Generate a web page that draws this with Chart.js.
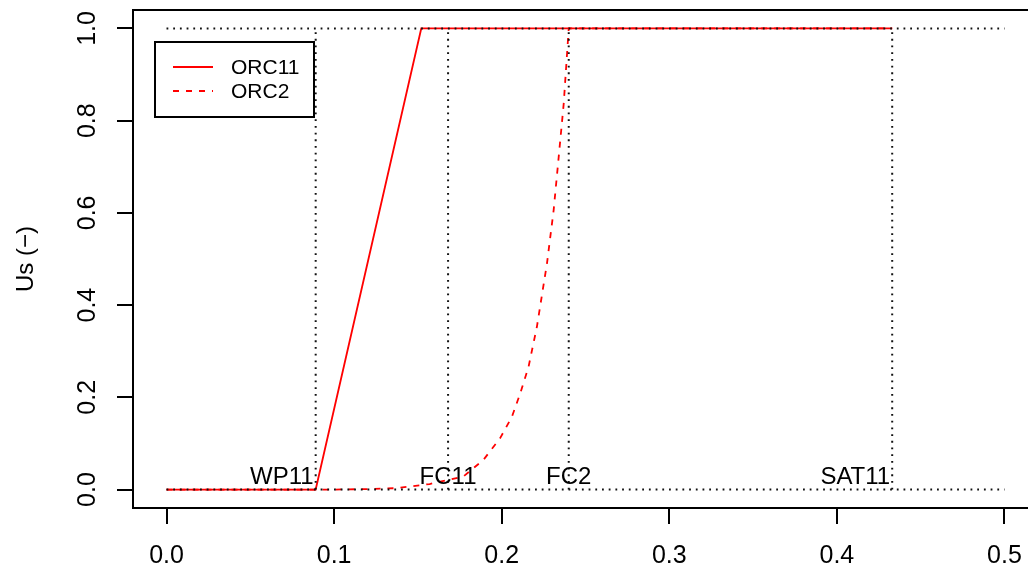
<!DOCTYPE html>
<html lang="en">
<head>
  <meta charset="UTF-8">
  <title>Us (-) curves</title>
  <script src="https://cdn.jsdelivr.net/npm/chart.js"></script>
  <style>
    html, body {
      margin: 0;
      padding: 0;
      background: #fff;
      overflow: hidden;
    }
    canvas { display: block; }
  </style>
</head>
<body>
  <canvas id="usChart" width="1060" height="571"></canvas>

  <script>
    // series
    const orc11X = [0, 0.089, 0.152, 0.433];
    const orc11Y = [0, 0, 1, 1];
    const orc2X = [0, 0.100, 0.120, 0.137, 0.157, 0.177, 0.189, 0.199, 0.206, 0.211, 0.216, 0.221, 0.227, 0.231, 0.234, 0.237, 0.240, 0.433];
    const orc2Y = [0, 0, 0.001, 0.003, 0.012, 0.028, 0.064, 0.111, 0.157, 0.208, 0.266, 0.353, 0.490, 0.606, 0.721, 0.837, 1, 1];

    // reference water contents
    const refNames = ["WP11", "FC11", "FC2", "SAT11"];
    const refX = [0.089, 0.168, 0.240, 0.433];
    const guideX = [0, 0.5];
    const guideY = [0, 1];

    // ticks
    const xTicks = [0, 0.1, 0.2, 0.3, 0.4, 0.5];
    const yTicks = [0, 0.2, 0.4, 0.6, 0.8, 1.0];

    const FONT = '"Liberation Sans", Arial, sans-serif';

    const toPts = (xs, ys) => xs.map((x, i) => ({ x: x, y: ys[i] }));

    const dotted = {
      borderColor: "#111",
      borderWidth: 2,
      borderDash: [1.8, 4.9],
      pointRadius: 0,
      fill: false
    };

    const guides = [];
    guideY.forEach(y => guides.push(Object.assign({ data: toPts(guideX, [y, y]) }, dotted)));
    refX.forEach(x => guides.push(Object.assign({ data: toPts([x, x], guideY) }, dotted)));

    // R-like frame, rotated y labels, reference labels and legend
    const rPlot = {
      id: "rPlot",
      afterDraw(chart, args, opts) {
        const ctx = chart.ctx;
        const a = chart.chartArea;
        const sx = chart.scales.x;
        const sy = chart.scales.y;
        ctx.save();

        ctx.strokeStyle = "#000";
        ctx.lineWidth = 2;
        ctx.strokeRect(a.left, a.top, a.right - a.left, a.bottom - a.top);

        ctx.fillStyle = "#000";
        ctx.font = "25px " + FONT;
        ctx.textAlign = "center";
        ctx.textBaseline = "middle";
        xTicks.forEach(v => ctx.fillText(v.toFixed(1), sx.getPixelForValue(v), 556));
        yTicks.forEach(v => {
          ctx.save();
          ctx.translate(88, sy.getPixelForValue(v));
          ctx.rotate(-Math.PI / 2);
          ctx.fillText(v.toFixed(1), 0, 0);
          ctx.restore();
        });

        ctx.save();
        ctx.font = "24px " + FONT;
        ctx.translate(26, (a.top + a.bottom) / 2);
        ctx.rotate(-Math.PI / 2);
        ctx.fillText("Us (\u2212)", 0, 0);
        ctx.restore();

        // labels of the reference lines
        ctx.font = "24px " + FONT;
        ctx.textBaseline = "alphabetic";
        refNames.forEach((name, i) => {
          const px = sx.getPixelForValue(refX[i]);
          const al = opts.labelAlign[i];
          ctx.textAlign = al;
          ctx.fillText(name, al === "right" ? px - 2 : px, sy.getPixelForValue(0) - 6);
        });

        // legend
        const lg = opts.legend;
        ctx.lineWidth = 2;
        ctx.strokeStyle = "#000";
        ctx.strokeRect(lg.left, lg.top, lg.width, lg.height);
        ctx.font = "21px " + FONT;
        ctx.textAlign = "left";
        ctx.textBaseline = "middle";
        chart.data.datasets.filter(d => d.label).forEach((d, i) => {
          const y = lg.top + 25 + i * 24;
          ctx.save();
          ctx.strokeStyle = d.borderColor;
          ctx.lineWidth = d.borderWidth;
          ctx.setLineDash(d.borderDash || []);
          ctx.beginPath();
          ctx.moveTo(lg.left + 18, y);
          ctx.lineTo(lg.left + 58, y);
          ctx.stroke();
          ctx.restore();
          ctx.fillText(d.label, lg.left + 76, y + 1);
        });

        ctx.restore();
      }
    };

    const tickGrid = {
      drawOnChartArea: false,
      drawTicks: true,
      tickLength: 16,
      color: "#000",
      lineWidth: 2
    };

    new Chart(document.getElementById("usChart").getContext("2d"), {
      type: "line",
      data: {
        datasets: guides.concat([
          {
            label: "ORC11",
            data: toPts(orc11X, orc11Y),
            borderColor: "#ff0000",
            borderWidth: 1.8,
            pointRadius: 0,
            tension: 0,
            fill: false
          },
          {
            label: "ORC2",
            data: toPts(orc2X, orc2Y),
            borderColor: "#ff0000",
            borderWidth: 1.8,
            borderDash: [6, 7],
            pointRadius: 0,
            tension: 0,
            fill: false
          }
        ])
      },
      options: {
        responsive: false,
        animation: false,
        layout: { padding: { top: 10, right: 22, left: 0, bottom: 0 } },
        plugins: {
          legend: { display: false },
          tooltip: { enabled: false },
          rPlot: {
            labelAlign: ["right", "center", "center", "right"],
            legend: { left: 155, top: 42, width: 159, height: 75 }
          }
        },
        scales: {
          x: {
            type: "linear",
            min: -0.02,
            max: 0.52,
            afterBuildTicks: s => { s.ticks = xTicks.map(v => ({ value: v })); },
            afterFit: s => { s.height = 63; },
            ticks: { display: false },
            grid: tickGrid,
            border: { display: false }
          },
          y: {
            type: "linear",
            min: -0.04,
            max: 1.04,
            afterBuildTicks: s => { s.ticks = yTicks.map(v => ({ value: v })); },
            afterFit: s => { s.width = 133; },
            ticks: { display: false },
            grid: tickGrid,
            border: { display: false }
          }
        }
      },
      plugins: [rPlot]
    });
  </script>
</body>
</html>
